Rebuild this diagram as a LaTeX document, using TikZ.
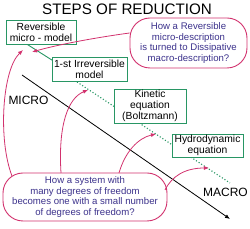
\documentclass[tikz,border=0pt]{standalone}
\usepackage{fontspec}
\setmainfont{Liberation Sans}
\usetikzlibrary{arrows.meta}
\definecolor{gbox}{RGB}{40,150,100}
\definecolor{pk}{RGB}{210,50,110}
\definecolor{qtxt}{RGB}{60,50,140}
\begin{document}
\begin{tikzpicture}[x=1pt,y=-1pt,
  stepbox/.style={draw=gbox,line width=0.9pt,fill=white,inner sep=0pt,align=center,
    font=\fontsize{10.3}{11}\selectfont},
  qbubble/.style={draw=pk,line width=0.9pt,fill=white,rounded corners=20pt,inner sep=0pt,align=center,
    text=qtxt,font=\fontsize{9.6}{10.5}\selectfont},
  pkarrow/.style={draw=pk,line width=0.8pt,-{Latex[length=5pt,width=4pt]}},
  axislbl/.style={font=\fontsize{12}{14}\selectfont,inner sep=0pt}]
\useasboundingbox (0,0) rectangle (250,229);
\node[font=\fontsize{15.2}{17}\selectfont,inner sep=0pt] (title) at (127,9) {STEPS OF REDUCTION};
% axis
\coordinate (a0) at (22,75);
\coordinate (a1) at (230,219);
\draw[line width=0.8pt,-{Latex[length=5pt,width=4pt]}] (a0) -- (a1);
\node[axislbl] (micro) at (28.5,100) {MICRO};
\node[axislbl] (macro) at (225.5,192) {MACRO};
% diagonal
\coordinate (d0) at (25,43);
\coordinate (d1) at (55,62);
\coordinate (d2) at (77,82);
\coordinate (d3) at (230,183);
\draw[gbox,line width=0.9pt] (d0) -- (d1);
\draw[gbox,line width=1.1pt,dotted] (d2) -- (d3);
% boxes
\node[stepbox,minimum width=70pt,minimum height=24pt] (rev) at (41,32) {Reversible\\micro - model};
\node[stepbox,minimum width=75pt,minimum height=24pt] (irr) at (89.5,69) {1-st Irreversible\\model};
\node[stepbox,minimum width=72pt,minimum height=34pt] (kin) at (150,106) {Kinetic\\equation\\(Boltzmann)};
\node[stepbox,minimum width=71pt,minimum height=23pt] (hyd) at (207.5,145.5) {Hydrodynamic\\equation};
% bubbles
\node[qbubble,minimum width=117pt,minimum height=50pt] (qtop) at (188.5,43) {How a Reversible\\micro-description\\is turned to Dissipative\\macro-description?};
\node[qbubble,minimum width=164pt,minimum height=48pt] (qbot) at (85,197) {How a system with\\many degrees of freedom\\becomes one with a small number\\of degrees of freedom?};
% arrows
\coordinate (t1) at (32,52);
\coordinate (t2) at (23,50);
\coordinate (t3) at (88,90);
\coordinate (t4) at (156,134);
\coordinate (t5) at (209,168);
\draw[pkarrow] (qtop.west |- 0,33) .. controls (100,37) and (60,44) .. (t1);
\draw[pkarrow] (12,176) .. controls (-2,140) and (2,70) .. (t2);
\draw[pkarrow] (61,173) .. controls (58,125) and (68,98) .. (t3);
\draw[pkarrow] (119,173) .. controls (125,152) and (138,138) .. (t4);
\draw[pkarrow] (165,190) .. controls (172,176) and (185,168) .. (t5);
\end{tikzpicture}
\end{document}
